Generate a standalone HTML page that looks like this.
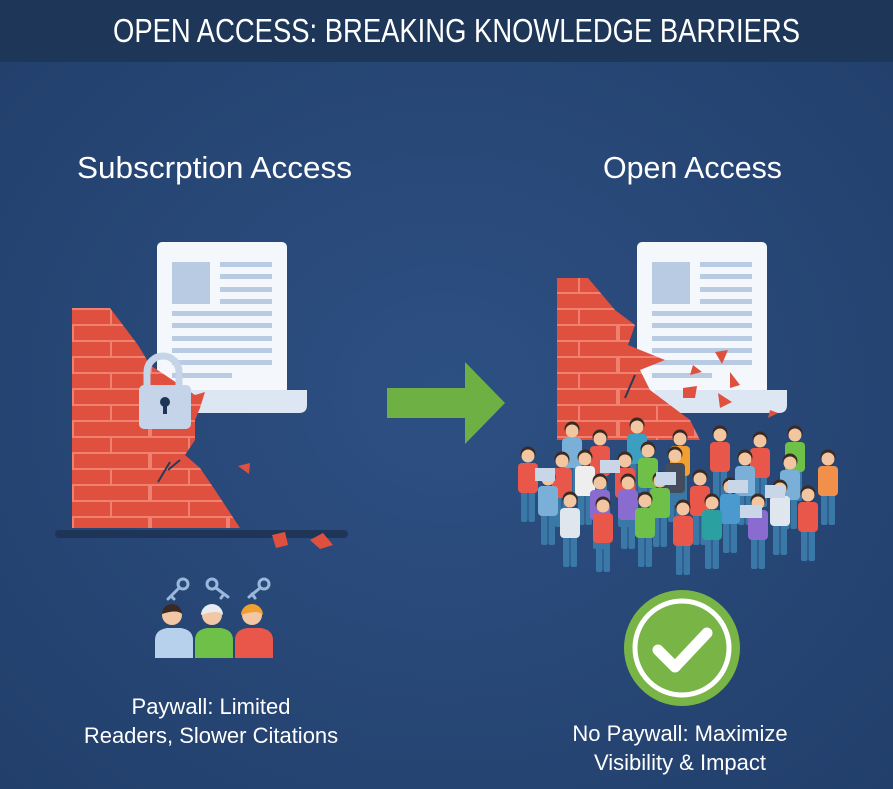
<!DOCTYPE html>
<html><head><meta charset="utf-8"><style>
html,body{margin:0;padding:0;width:893px;height:789px;overflow:hidden;background:#284a78}
svg{display:block}
text{font-family:"Liberation Sans",sans-serif;fill:#fff}
</style></head><body>
<svg width="893" height="789" viewBox="0 0 893 789" xmlns="http://www.w3.org/2000/svg">
<defs>
<radialGradient id="bg" cx="50%" cy="50%" r="70%">
<stop offset="0" stop-color="#2d5083"/><stop offset="1" stop-color="#223f6b"/>
</radialGradient>
<pattern id="brick" width="78" height="32" patternUnits="userSpaceOnUse" x="72" y="308">
<rect width="78" height="32" fill="#e0503f"/>
<rect x="0" y="0" width="78" height="2" fill="#f08070"/>
<rect x="0" y="16" width="78" height="2" fill="#f08070"/>
<rect x="38" y="0" width="2" height="16" fill="#f08070"/>
<rect x="0" y="16" width="2" height="16" fill="#f08070"/>
<rect x="76" y="16" width="2" height="16" fill="#f08070"/>
</pattern>
<g id="p">
<rect x="-7" y="35" width="6.5" height="32" rx="2" fill="#3a78a8"/>
<rect x="0.5" y="35" width="6.5" height="32" rx="2" fill="#3a78a8"/>
<rect x="-10" y="8" width="20" height="30" rx="4" fill="currentColor"/>
<circle cx="0" cy="-1" r="7.5" fill="#3a2a22"/>
<circle cx="0" cy="1" r="6.5" fill="#f3c6a2"/>
</g>
</defs>
<rect width="893" height="789" fill="url(#bg)"/>
<rect width="893" height="62" fill="#1e3658"/>
<text x="113" y="42" font-size="33" textLength="687" lengthAdjust="spacingAndGlyphs">OPEN ACCESS: BREAKING KNOWLEDGE BARRIERS</text>
<text x="77" y="178" font-size="31" textLength="275" lengthAdjust="spacingAndGlyphs">Subscrption Access</text>
<text x="603" y="178" font-size="31" textLength="179" lengthAdjust="spacingAndGlyphs">Open Access</text>

<!-- left document -->
<rect x="157" y="242" width="130" height="160" rx="5" fill="#f4f7fb"/>
<path d="M175 390 H307 V405 Q307 413 299 413 H175 Z" fill="#dde7f3"/>
<rect x="172" y="262" width="38" height="42" fill="#b9cbe2"/>
<g fill="#b9cbe2"><rect x="220" y="262" width="52" height="5"/><rect x="220" y="274" width="52" height="5"/><rect x="220" y="287" width="52" height="5"/><rect x="220" y="299" width="52" height="5"/><rect x="172" y="311" width="100" height="5"/><rect x="172" y="323" width="100" height="5"/><rect x="172" y="336" width="100" height="5"/><rect x="172" y="348" width="100" height="5"/><rect x="172" y="360" width="100" height="5"/><rect x="172" y="373" width="60" height="5"/></g>
<!-- left wall -->
<polygon points="72,308 110,308 138,345 150,365 195,395 205,392 200,408 195,420 195,440 185,455 200,468 215,490 240,528 72,528" fill="url(#brick)"/>
<path d="M170 462 L158 482 M168 470 L180 460" stroke="#2a3a55" stroke-width="2"/>
<polygon points="238,466 250,463 249,474" fill="#e0503f"/>
<rect x="55" y="530" width="293" height="8" rx="4" fill="#1f3558"/>
<polygon points="272,535 285,532 288,545 276,548" fill="#e0503f"/>
<polygon points="310,540 323,533 333,545 320,549" fill="#e0503f"/>
<!-- lock -->
<path d="M147 388 V372 a16 16 0 0 1 32 0 V388" fill="none" stroke="#c5d4e8" stroke-width="7"/>
<rect x="139" y="385" width="52" height="44" rx="5" fill="#c5d4e8"/>
<circle cx="165" cy="402" r="5" fill="#1f3558"/><rect x="163" y="402" width="4" height="12" fill="#1f3558"/>

<!-- arrow -->
<polygon points="387,388 465,388 465,362 505,403 465,444 465,418 387,418" fill="#6fb044"/>

<!-- right document -->
<rect x="637" y="242" width="130" height="160" rx="5" fill="#f4f7fb"/>
<path d="M655 390 H787 V405 Q787 413 779 413 H655 Z" fill="#dde7f3"/>
<rect x="652" y="262" width="38" height="42" fill="#b9cbe2"/>
<g fill="#b9cbe2"><rect x="700" y="262" width="52" height="5"/><rect x="700" y="274" width="52" height="5"/><rect x="700" y="287" width="52" height="5"/><rect x="700" y="299" width="52" height="5"/><rect x="652" y="311" width="100" height="5"/><rect x="652" y="323" width="100" height="5"/><rect x="652" y="336" width="100" height="5"/><rect x="652" y="348" width="100" height="5"/><rect x="652" y="360" width="100" height="5"/><rect x="652" y="373" width="60" height="5"/></g>
<!-- right wall -->
<polygon points="557,278 588,278 615,310 635,325 628,345 665,360 640,370 650,390 690,420 700,440 557,440" fill="url(#brick)"/>
<path d="M635 375 L625 398" stroke="#2a3a55" stroke-width="2"/>
<g fill="#e0503f"><polygon points="715,352 728,350 722,364"/><polygon points="693,365 702,372 690,375"/><polygon points="730,372 740,385 730,388"/><polygon points="683,388 697,386 695,398 683,398"/><polygon points="718,393 732,402 720,408"/><polygon points="770,410 778,413 768,418"/></g>
<!-- crowd -->
<g>
<use href="#p" x="572" y="430" style="color:#7ab0d8"/>
<use href="#p" x="600" y="438" style="color:#e9574b"/>
<use href="#p" x="637" y="426" style="color:#3c9ec0"/>
<use href="#p" x="680" y="438" style="color:#f0a030"/>
<use href="#p" x="720" y="434" style="color:#e9574b"/>
<use href="#p" x="760" y="440" style="color:#e9574b"/>
<use href="#p" x="795" y="434" style="color:#6ec049"/>
<use href="#p" x="528" y="455" style="color:#e9574b"/>
<use href="#p" x="562" y="460" style="color:#e9574b"/>
<use href="#p" x="585" y="458" style="color:#eeeeee"/>
<use href="#p" x="625" y="460" style="color:#e9574b"/>
<use href="#p" x="648" y="450" style="color:#6ec049"/>
<use href="#p" x="675" y="455" style="color:#444c5c"/>
<use href="#p" x="745" y="458" style="color:#7ab0d8"/>
<use href="#p" x="790" y="462" style="color:#7ab0d8"/>
<use href="#p" x="828" y="458" style="color:#f0904a"/>
<use href="#p" x="548" y="478" style="color:#7ab0d8"/>
<use href="#p" x="600" y="482" style="color:#8a6cd0"/>
<use href="#p" x="628" y="482" style="color:#8a6cd0"/>
<use href="#p" x="660" y="480" style="color:#6ec049"/>
<use href="#p" x="700" y="478" style="color:#e9574b"/>
<use href="#p" x="730" y="486" style="color:#4a9ad0"/>
<use href="#p" x="780" y="488" style="color:#e0e6ee"/>
<use href="#p" x="808" y="494" style="color:#e9574b"/>
<use href="#p" x="570" y="500" style="color:#e0e6ee"/>
<use href="#p" x="603" y="505" style="color:#e9574b"/>
<use href="#p" x="645" y="500" style="color:#6ec049"/>
<use href="#p" x="683" y="508" style="color:#e9574b"/>
<use href="#p" x="712" y="502" style="color:#2aa0a0"/>
<use href="#p" x="758" y="502" style="color:#8a6cd0"/>
</g>
<g fill="#c9d6e8"><rect x="535" y="468" width="20" height="13"/><rect x="600" y="460" width="20" height="13"/><rect x="656" y="472" width="20" height="13"/><rect x="728" y="480" width="20" height="13"/><rect x="765" y="485" width="20" height="13"/><rect x="740" y="505" width="22" height="13"/></g>

<!-- keys -->
<g stroke="#9ab8dc" stroke-width="3" fill="none" stroke-linecap="round">
<circle cx="183" cy="584" r="5"/><path d="M179 588 L168 599 M171 596 L174 599"/>
<circle cx="212" cy="584" r="5"/><path d="M216 588 L228 597 M224 594 L221 598"/>
<circle cx="264" cy="584" r="5"/><path d="M260 588 L249 597 M252 594 L255 598"/>
</g>
<!-- three people -->
<path d="M155 658 V640 q0 -10 12 -12 h14 q12 2 12 12 V658 Z" fill="#b7d0ec"/>
<circle cx="172" cy="615" r="10" fill="#f2c7a5"/><path d="M162 614 a10 10 0 0 1 20 0 q-5 -5 -20 0z" fill="#3a2a22"/>
<path d="M195 658 V640 q0 -10 12 -12 h14 q12 2 12 12 V658 Z" fill="#6ec049"/>
<circle cx="212" cy="615" r="10" fill="#f2c7a5"/><path d="M201 615 a11 11 0 0 1 22 0 q-5 -6 -22 0z" fill="#e8ecef"/>
<path d="M235 658 V640 q0 -10 12 -12 h14 q12 2 12 12 V658 Z" fill="#e9574b"/>
<circle cx="252" cy="615" r="10" fill="#f2c7a5"/><path d="M241 615 a11 11 0 0 1 22 0 q-5 -6 -22 0z" fill="#f0a030"/>

<!-- check -->
<circle cx="682" cy="648" r="58" fill="#78b546"/>
<circle cx="682" cy="648" r="47" fill="none" stroke="#fff" stroke-width="5"/>
<path d="M658 650 L675 667 L707 633" fill="none" stroke="#fff" stroke-width="11" stroke-linecap="round" stroke-linejoin="round"/>

<text x="211" y="714" font-size="22" text-anchor="middle">Paywall: Limited</text>
<text x="211" y="743" font-size="22" text-anchor="middle">Readers, Slower Citations</text>
<text x="680" y="741" font-size="22" text-anchor="middle">No Paywall: Maximize</text>
<text x="680" y="770" font-size="22" text-anchor="middle">Visibility &amp; Impact</text>
</svg>
</body></html>
